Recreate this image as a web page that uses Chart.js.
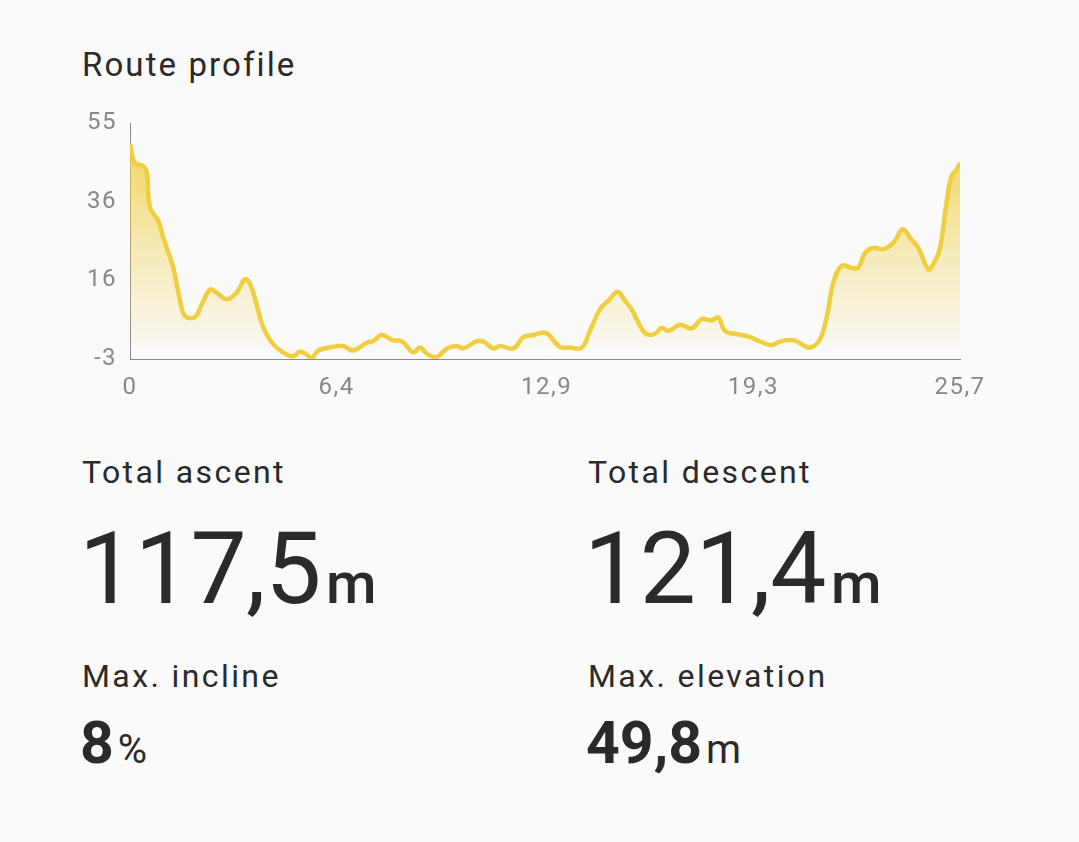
<!DOCTYPE html>
<html>
<head>
<meta charset="utf-8">
<script src="https://cdn.jsdelivr.net/npm/chart.js@4.4.1/dist/chart.umd.min.js"></script>
<style>
  html, body { margin: 0; padding: 0; background: #fafafa; }
  body { width: 1079px; height: 842px; position: relative; overflow: hidden; font-family: Roboto, sans-serif; color: #2a2a2a; }
  #wrap { position: absolute; left: 0; top: 0; width: 1079px; height: 420px; }
  .t { position: absolute; white-space: nowrap; line-height: 1; }
  .lbl { font-size: 32px; letter-spacing: 2.4px; }
  .big { font-size: 100px; letter-spacing: -0.5px; }
  .bigunit { font-size: 58px; font-weight: 500; margin-left: 5px; }
  .mid { font-size: 59px; font-weight: 700; }
  .midunit { font-size: 40px; }
</style>
</head>
<body>
<div class="t lbl" style="left:82px; top:48px; font-size:33px; letter-spacing:2.1px;">Route profile</div>
<div id="wrap"><canvas id="profil"></canvas></div>

<div class="t lbl" style="left:82px; top:456px;">Total ascent</div>
<div class="t" style="left:79px; top:519px;"><span class="big">117,5</span><span class="bigunit">m</span></div>
<div class="t lbl" style="left:82px; top:660px;">Max. incline</div>
<div class="t" style="left:80px; top:713px;"><span class="mid">8</span> <span class="midunit">%</span></div>

<div class="t lbl" style="left:588px; top:456px;">Total descent</div>
<div class="t" style="left:584px; top:519px;"><span class="big">121,4</span><span class="bigunit">m</span></div>
<div class="t lbl" style="left:588px; top:660px;">Max. elevation</div>
<div class="t" style="left:586px; top:713px;"><span class="mid">49,8</span> <span class="midunit">m</span></div>

<script>
// distance (km) / elevation (m)
const distances = [
  0, 0.15, 0.41, 0.52, 0.62, 0.88, 1.03, 1.34, 1.55, 1.70,
  2.01, 2.22, 2.48, 2.68, 2.99, 3.30, 3.56, 3.72, 3.92, 4.13,
  4.44, 4.85, 5.06, 5.26, 5.47, 5.63, 5.83, 6.29, 6.60, 6.91,
  7.33, 7.53, 7.79, 8.15, 8.41, 8.77, 8.98, 9.19, 9.50, 9.81,
  10.12, 10.32, 10.74, 10.94, 11.25, 11.46, 11.87, 12.18, 12.49, 12.80,
  12.95, 13.31, 13.62, 13.99, 14.24, 14.55, 14.86, 15.09, 15.33, 15.53,
  15.89, 16.10, 16.31, 16.46, 16.67, 17.03, 17.39, 17.70, 18.01, 18.22,
  18.42, 18.79, 19.20, 19.51, 19.87, 20.13, 20.54, 20.80, 21.06, 21.36,
  21.57, 21.78, 22.04, 22.35, 22.55, 22.76, 23.02, 23.33, 23.64, 23.93,
  24.15, 24.41, 24.72, 24.87, 25.08, 25.29, 25.44, 25.60, 25.70
];
const elevations = [
  49.8, 45.2, 44.4, 42.8, 34.2, 30.9, 26.8, 19.4, 11.3, 7.6,
  7.3, 10.4, 14.1, 13.3, 11.7, 13.3, 16.6, 15.4, 10.4, 4.7,
  0.6, -1.9, -2.3, -1.2, -1.9, -2.8, -0.9, 0.0, 0.2, -0.9,
  1.0, 1.4, 2.9, 1.6, 1.4, -1.4, -0.2, -1.7, -2.5, -0.4,
  0.2, -0.4, 1.4, 1.3, -0.4, 0.2, -0.4, 2.4, 2.9, 3.5,
  3.1, 0.0, -0.2, -0.2, 3.9, 9.2, 11.7, 13.5, 11.3, 9.2,
  3.9, 2.9, 3.5, 4.7, 3.9, 5.4, 4.5, 6.8, 6.5, 7.2,
  3.9, 3.1, 2.4, 1.3, 0.4, 1.3, 1.6, 0.6, -0.2, 1.8,
  7.2, 15.8, 19.9, 19.4, 19.4, 23.1, 24.3, 24.0, 25.6, 28.9,
  26.8, 24.3, 19.0, 20.3, 24.3, 35.8, 42.0, 43.6, 45.2
];
const xTicks = [0, 6.4, 12.9, 19.3, 25.7];
const yTickLabels = ['-3', '16', '36', '55'];
const yMin = -3;
const yMax = 55;

const jaune = 'rgb(240, 206, 64)';

function degrade(context) {
  const chart = context.chart;
  const area = chart.chartArea;
  if (!area) return 'rgba(240,206,64,0.5)';
  const g = chart.ctx.createLinearGradient(0, area.top, 0, area.bottom);
  g.addColorStop(0, 'rgba(240,206,64,0.9)');
  g.addColorStop(0.55, 'rgba(240,206,64,0.35)');
  g.addColorStop(1, 'rgba(240,206,64,0.0)');
  return g;
}

function virgule(v) {
  return String(v).replace('.', ',');
}

let points = [];
for (let i = 0; i < distances.length; i++) {
  points.push({ x: distances[i], y: elevations[i] });
}

// the y ticks sit evenly between min and max, labels rounded
function ticksY(s) {
  let n = yTickLabels.length - 1;
  s.ticks = yTickLabels.map((lab, i) => ({ value: yMin + (yMax - yMin) * i / n, label: lab }));
}

const espacement = {
  id: 'espacement',
  beforeDraw(chart) { chart.ctx.letterSpacing = '1.5px'; }
};

const canv = document.getElementById('profil');
const diagramme = new Chart(canv, {
  type: 'line',
  data: {
    datasets: [{
      data: points,
      borderColor: jaune,
      borderWidth: 4.5,
      backgroundColor: degrade,
      fill: 'origin',
      tension: 0.4,
      pointRadius: 0
    }]
  },
  plugins: [espacement],
  options: {
    responsive: true,
    maintainAspectRatio: false,
    animation: false,
    layout: { padding: { top: 123, right: 119, left: 0, bottom: 0 } },
    plugins: { legend: { display: false }, tooltip: { enabled: false } },
    scales: {
      x: {
        type: 'linear',
        min: 0,
        max: 25.7,
        afterFit: (s) => { s.height = 61; },
        afterBuildTicks: (s) => { s.ticks = xTicks.map(v => ({ value: v })); },
        grid: { display: false, drawTicks: false },
        border: { display: true, color: '#8a8a8a', width: 1 },
        ticks: {
          color: '#888888',
          font: { family: 'Roboto', size: 24 },
          padding: 15,
          maxRotation: 0,
          autoSkip: false,
          callback: (v) => virgule(v)
        }
      },
      y: {
        min: yMin,
        max: yMax,
        afterFit: (s) => { s.width = 130; },
        afterBuildTicks: ticksY,
        grid: { display: false, drawTicks: false },
        border: { display: true, color: '#8a8a8a', width: 1 },
        ticks: {
          color: '#888888',
          font: { family: 'Roboto', size: 24 },
          padding: 13,
          autoSkip: false,
          callback: (v, i) => yTickLabels[i]
        }
      }
    }
  }
});
</script>
</body>
</html>
